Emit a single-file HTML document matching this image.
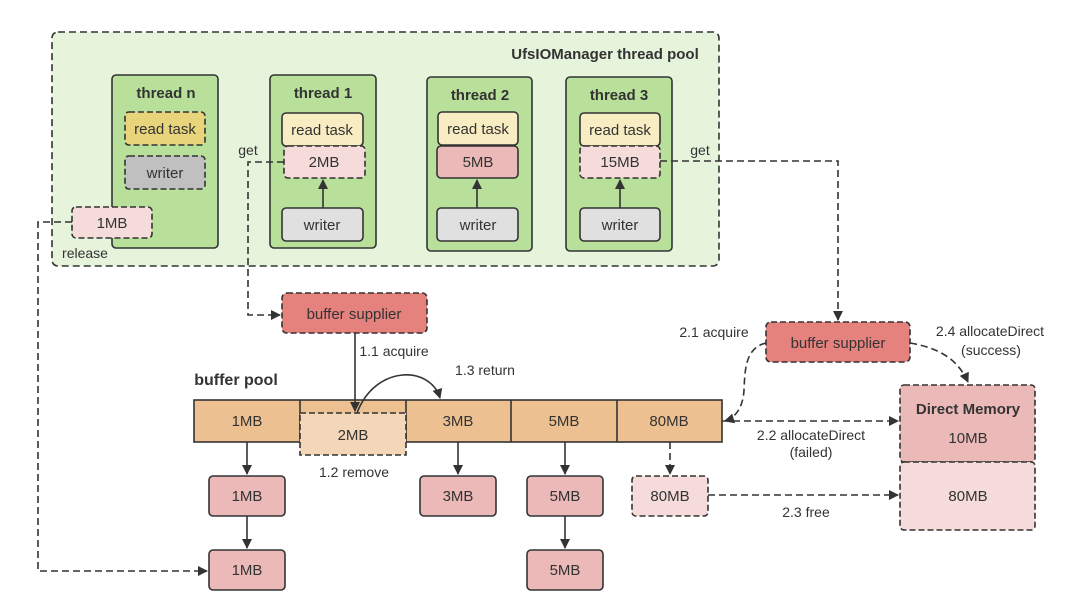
<!DOCTYPE html>
<html><head><meta charset="utf-8"><style>
html,body{margin:0;padding:0;background:#fff;}
svg{display:block;}
text{font-family:"Liberation Sans","Noto Sans CJK SC",sans-serif;fill:#333;}
</style></head><body>
<svg width="1080" height="608" viewBox="0 0 1080 608" xmlns="http://www.w3.org/2000/svg">
<defs>
<marker id="a" markerWidth="10" markerHeight="10" refX="9" refY="5" orient="auto" markerUnits="userSpaceOnUse"><path d="M0,0 L10,5 L0,10 z" fill="#333"/></marker>
</defs>
<g stroke="#333" stroke-width="1.6">
<rect x="52" y="32" width="667" height="234" rx="6" fill="#e7f4dc" stroke-dasharray="7,4"/>
<rect x="112" y="75" width="106" height="173" rx="4" fill="#b9e09a"/>
<rect x="270" y="75" width="106" height="173" rx="4" fill="#b9e09a"/>
<rect x="427" y="77" width="105" height="174" rx="4" fill="#b9e09a"/>
<rect x="566" y="77" width="106" height="174" rx="4" fill="#b9e09a"/>
<rect x="125" y="112" width="80" height="33" rx="4" fill="#e8d47a" stroke-dasharray="6,3"/>
<rect x="125" y="156" width="80" height="33" rx="4" fill="#c0c0c0" stroke-dasharray="6,3"/>
<rect x="282" y="113" width="81" height="33" rx="4" fill="#f8ecc2"/>
<rect x="284" y="146" width="81" height="32" rx="4" fill="#f5dcdb" stroke-dasharray="6,3"/>
<rect x="282" y="208" width="81" height="33" rx="4" fill="#e0e0e0"/>
<rect x="438" y="112" width="80" height="33" rx="4" fill="#f8ecc2"/>
<rect x="437" y="146" width="81" height="32" rx="4" fill="#ebb9b8"/>
<rect x="437" y="208" width="81" height="33" rx="4" fill="#e0e0e0"/>
<rect x="580" y="113" width="80" height="33" rx="4" fill="#f8ecc2"/>
<rect x="580" y="146" width="80" height="32" rx="4" fill="#f5dcdb" stroke-dasharray="6,3"/>
<rect x="580" y="208" width="80" height="33" rx="4" fill="#e0e0e0"/>
<rect x="72" y="207" width="80" height="31" rx="4" fill="#f5dcdb" stroke-dasharray="6,3"/>
<line x1="323" y1="208" x2="323" y2="180" marker-end="url(#a)"/>
<line x1="477" y1="208" x2="477" y2="180" marker-end="url(#a)"/>
<line x1="620" y1="208" x2="620" y2="180" marker-end="url(#a)"/>
<g fill="none" stroke-dasharray="7,4">
<polyline points="72,222 38,222 38,571 207,571" marker-end="url(#a)"/>
<polyline points="284,162 248,162 248,315 280,315" marker-end="url(#a)"/>
<polyline points="660,161 838,161 838,320" marker-end="url(#a)"/>
<line x1="722" y1="421" x2="898" y2="421" marker-end="url(#a)"/>
<line x1="708" y1="495" x2="898" y2="495" marker-end="url(#a)"/>
<line x1="670" y1="442" x2="670" y2="474" marker-end="url(#a)"/>
<path d="M766,343 C745,348 745,370 744,390 C743,408 735,418 725,421" marker-end="url(#a)"/>
<path d="M910,343 C940,348 958,360 968,382" marker-end="url(#a)"/>
</g>
<rect x="282" y="293" width="145" height="40" rx="5" fill="#e5827d" stroke-dasharray="6,3"/>
<rect x="766" y="322" width="144" height="40" rx="5" fill="#e5827d" stroke-dasharray="6,3"/>
<rect x="194" y="400" width="528" height="42" fill="#edc092"/>
<line x1="300" y1="400" x2="300" y2="442"/>
<line x1="406" y1="400" x2="406" y2="442"/>
<line x1="511" y1="400" x2="511" y2="442"/>
<line x1="617" y1="400" x2="617" y2="442"/>
<rect x="300" y="413" width="106" height="42" fill="#f4d6b8" stroke-dasharray="6,3"/>
<line x1="355" y1="333" x2="355" y2="411" marker-end="url(#a)"/>
<path d="M357,413 C375,365 430,365 440,398" fill="none" marker-end="url(#a)"/>
<rect x="209" y="476" width="76" height="40" rx="4" fill="#ebb9b8"/>
<rect x="209" y="550" width="76" height="40" rx="4" fill="#ebb9b8"/>
<rect x="420" y="476" width="76" height="40" rx="4" fill="#ebb9b8"/>
<rect x="527" y="476" width="76" height="40" rx="4" fill="#ebb9b8"/>
<rect x="527" y="550" width="76" height="40" rx="4" fill="#ebb9b8"/>
<rect x="632" y="476" width="76" height="40" rx="4" fill="#f5dcdb" stroke-dasharray="6,3"/>
<line x1="247" y1="442" x2="247" y2="474" marker-end="url(#a)"/>
<line x1="247" y1="516" x2="247" y2="548" marker-end="url(#a)"/>
<line x1="458" y1="442" x2="458" y2="474" marker-end="url(#a)"/>
<line x1="565" y1="442" x2="565" y2="474" marker-end="url(#a)"/>
<line x1="565" y1="516" x2="565" y2="548" marker-end="url(#a)"/>
<rect x="900" y="385" width="135" height="77" rx="4" fill="#ebb9b8" stroke-dasharray="6,3"/>
<rect x="900" y="462" width="135" height="68" rx="4" fill="#f5dcdb" stroke-dasharray="6,3"/>
</g>
<g font-size="15" text-anchor="middle">
<text x="605" y="59" font-size="15" font-weight="bold">UfsIOManager thread pool</text>
<text x="166" y="98" font-weight="bold">thread n</text>
<text x="323" y="98" font-weight="bold">thread 1</text>
<text x="480" y="100" font-weight="bold">thread 2</text>
<text x="619" y="100" font-weight="bold">thread 3</text>
<text x="165" y="134">read task</text>
<text x="165" y="178">writer</text>
<text x="322" y="135">read task</text>
<text x="324" y="167">2MB</text>
<text x="322" y="230">writer</text>
<text x="478" y="134">read task</text>
<text x="478" y="167">5MB</text>
<text x="478" y="230">writer</text>
<text x="620" y="135">read task</text>
<text x="620" y="167">15MB</text>
<text x="620" y="230">writer</text>
<text x="112" y="228">1MB</text>
<text x="85" y="258" font-size="14">release</text>
<text x="248" y="155" font-size="14">get</text>
<text x="700" y="155" font-size="14">get</text>
<text x="354" y="319">buffer supplier</text>
<text x="838" y="348">buffer supplier</text>
<text x="236" y="385" font-size="16" font-weight="bold">buffer pool</text>
<text x="394" y="356" font-size="14">1.1 acquire</text>
<text x="485" y="375" font-size="14">1.3 return</text>
<text x="354" y="477" font-size="14">1.2 remove</text>
<text x="247" y="426">1MB</text>
<text x="353" y="440">2MB</text>
<text x="458" y="426">3MB</text>
<text x="564" y="426">5MB</text>
<text x="669" y="426">80MB</text>
<text x="247" y="501">1MB</text>
<text x="247" y="575">1MB</text>
<text x="458" y="501">3MB</text>
<text x="565" y="501">5MB</text>
<text x="565" y="575">5MB</text>
<text x="670" y="501">80MB</text>
<text x="968" y="414" font-weight="bold">Direct Memory</text>
<text x="968" y="443">10MB</text>
<text x="968" y="501">80MB</text>
<text x="714" y="337" font-size="14">2.1 acquire</text>
<text x="990" y="336" font-size="14">2.4 allocateDirect</text>
<text x="991" y="355" font-size="14">(success)</text>
<text x="811" y="440" font-size="14">2.2 allocateDirect</text>
<text x="811" y="457" font-size="14">(failed)</text>
<text x="806" y="517" font-size="14">2.3 free</text>
</g>
</svg>
</body></html>
